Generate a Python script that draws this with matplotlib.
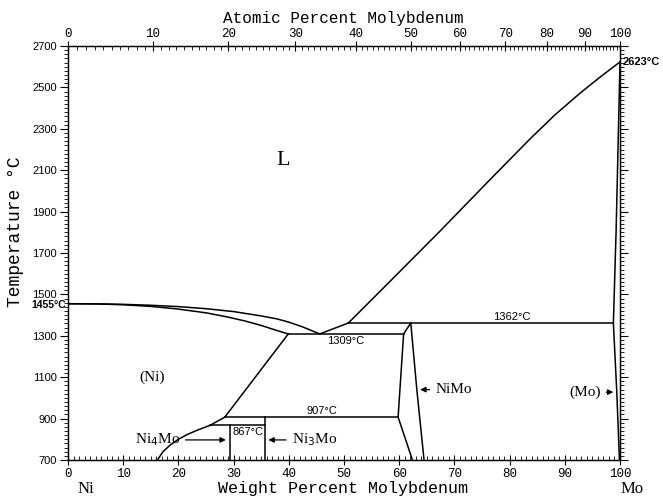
#!/usr/bin/env python3
# -*- coding: utf-8 -*-
"""Ni-Mo phase diagram redraw."""

import matplotlib as mpl
import matplotlib.pyplot as plt
import numpy as np
from matplotlib.ticker import MultipleLocator, FixedLocator

mpl.rcParams["axes.unicode_minus"] = False

# =======================
# Data (wt% Mo, T in degC)
# =======================
LIQ_NI_WT = [0, 5, 10, 15, 20, 25, 30, 35, 37.8, 40, 42.5, 45.6]
LIQ_NI_T = [1455, 1454.5, 1452, 1447.5, 1441, 1431, 1417, 1396, 1382, 1366, 1343, 1309]

SOL_NI_WT = [0, 5, 10, 15, 19.7, 25, 28.7, 32, 35, 37.8, 39.9]
SOL_NI_T = [1455, 1454, 1450, 1442, 1430, 1411, 1392, 1372, 1350, 1326, 1309]

LIQ_MO_WT = [45.6, 50.8, 58.6, 67.4, 76.4, 83.7, 88.2, 92.8, 96.4, 100]
LIQ_MO_T = [1309, 1362, 1570, 1806, 2053, 2251, 2367, 2473, 2550, 2623]

SOL_MO_WT = [100, 99.3, 98.8]
SOL_MO_T = [2623, 1811, 1362]

SOLV_MO_WT = [98.8, 99.4, 99.9]
SOLV_MO_T = [1362, 1038, 700]

PERI_WT = [50.8, 98.8]
PERI_T = [1362, 1362]

EUT_WT = [39.9, 60.8]
EUT_T = [1309, 1309]

NIMO_L_WT = [62.1, 60.8, 59.8, 62.4]
NIMO_L_T = [1362, 1309, 907, 700]

NIMO_R_WT = [62.1, 63.2, 64.5]
NIMO_R_T = [1362, 1038, 700]

SOLV_NI_UP_WT = [39.9, 28.4]
SOLV_NI_UP_T = [1309, 907]

SOLV_NI_LO_WT = [28.4, 25.7, 23.5, 21.5, 20.0, 18.5, 17.2, 16.2]
SOLV_NI_LO_T = [907, 867, 845, 822, 800, 772, 740, 700]

L907_WT = [28.4, 59.8]
L907_T = [907, 907]

L867_WT = [25.7, 35.6]
L867_T = [867, 867]

NI4MO_WT = [29.3, 29.3]
NI4MO_T = [867, 700]

NI3MO_WT = [35.6, 35.6]
NI3MO_T = [907, 700]

T_TICKS = [700, 900, 1100, 1300, 1500, 1700, 1900, 2100, 2300, 2500, 2700]
AT_TICKS = [0, 10, 20, 30, 40, 50, 60, 70, 80, 90, 100]

M_NI = 58.69
M_MO = 95.95


def at_to_wt(a):
    a = np.asarray(a, dtype=float)
    return 100.0 * a * M_MO / (a * M_MO + (100.0 - a) * M_NI)


MONO = "Liberation Mono"
SERIF = "Liberation Serif"
SANS = "Liberation Sans"


def main():
    fig = plt.figure(figsize=(6.63, 4.98), dpi=100)
    ax = fig.add_axes([68 / 663, 1 - 460 / 498, 552 / 663, 414 / 498])

    kw = dict(color="black", lw=1.1, solid_joinstyle="round")
    for xs, ys in [
        (LIQ_NI_WT, LIQ_NI_T), (SOL_NI_WT, SOL_NI_T), (LIQ_MO_WT, LIQ_MO_T),
        (SOL_MO_WT, SOL_MO_T), (SOLV_MO_WT, SOLV_MO_T), (PERI_WT, PERI_T),
        (EUT_WT, EUT_T), (NIMO_L_WT, NIMO_L_T), (NIMO_R_WT, NIMO_R_T),
        (SOLV_NI_UP_WT, SOLV_NI_UP_T), (SOLV_NI_LO_WT, SOLV_NI_LO_T),
        (L907_WT, L907_T), (L867_WT, L867_T), (NI4MO_WT, NI4MO_T),
        (NI3MO_WT, NI3MO_T),
    ]:
        ax.plot(xs, ys, **kw)

    ax.set_xlim(0, 100)
    ax.set_ylim(700, 2700)

    # bottom / left ticks
    ax.xaxis.set_major_locator(MultipleLocator(10))
    ax.xaxis.set_minor_locator(MultipleLocator(1))
    ax.yaxis.set_major_locator(FixedLocator(T_TICKS))
    ax.yaxis.set_minor_locator(MultipleLocator(20))
    ax.tick_params(axis="x", which="major", direction="inout", length=7, width=0.8,
                   labelsize=9, pad=2)
    ax.tick_params(axis="x", which="minor", direction="in", length=3, width=0.6)
    ax.tick_params(axis="y", which="major", direction="out", length=6, width=0.8,
                   labelsize=8, right=True, pad=2)
    ax.tick_params(axis="y", which="minor", direction="out", length=3, width=0.6,
                   right=True)
    for lab in ax.get_xticklabels():
        lab.set_family(MONO)
    for lab in ax.get_yticklabels():
        lab.set_family(SANS)

    # top atomic percent axis
    top = ax.twiny()
    top.set_xlim(0, 100)
    top.xaxis.set_major_locator(FixedLocator(at_to_wt(AT_TICKS)))
    top.xaxis.set_minor_locator(FixedLocator(at_to_wt(np.arange(0, 101, 1))))
    top.set_xticklabels([str(v) for v in AT_TICKS], family=MONO, fontsize=9)
    top.tick_params(axis="x", which="major", direction="inout", length=7, width=0.8, pad=1)
    top.tick_params(axis="x", which="minor", direction="in", length=3, width=0.6)

    for a in (ax, top):
        for s in a.spines.values():
            s.set_linewidth(0.9)

    # axis titles
    fig.text(343 / 663, 1 - 18 / 498, "Atomic Percent Molybdenum", ha="center",
             va="center", family=MONO, fontsize=11.5)
    fig.text(343 / 663, 1 - 488 / 498, "Weight Percent Molybdenum", ha="center",
             va="center", family=MONO, fontsize=12)
    fig.text(86 / 663, 1 - 489 / 498, "Ni", ha="center", va="center",
             family=SERIF, fontsize=12)
    fig.text(632 / 663, 1 - 489 / 498, "Mo", ha="center", va="center",
             family=SERIF, fontsize=12)
    fig.text(16 / 663, 1 - 232 / 498, "Temperature °C", ha="center", va="center",
             rotation=90, family=MONO, fontsize=13)

    # temperature annotations
    fig.text(66 / 663, 1 - 305.5 / 498, "1455°C", ha="right", va="center",
             family=SANS, fontsize=7.5, fontweight="bold")
    fig.text(623 / 663, 1 - 62 / 498, "2623°C", ha="left", va="center",
             family=SANS, fontsize=8, fontweight="bold")
    ax.text(47.0, 1300, "1309°C", ha="left", va="top", family=SANS, fontsize=8)
    ax.text(80.4, 1368, "1362°C", ha="center", va="bottom", family=SANS, fontsize=8)
    ax.text(46, 913, "907°C", ha="center", va="bottom", family=SANS, fontsize=8)
    ax.text(32.6, 860, "867°C", ha="center", va="top", family=SANS, fontsize=8)

    # phase labels
    ax.text(39, 2145, "L", ha="center", va="center", family=SERIF, fontsize=16)
    ax.text(15.3, 1102, "(Ni)", ha="center", va="center", family=SERIF, fontsize=11)

    arrow = dict(arrowstyle="-|>", color="black", lw=0.9, mutation_scale=8)
    ax.annotate("NiMo", xy=(63.3, 1040), xytext=(66.5, 1040), ha="left", va="center",
                family=SERIF, fontsize=11, arrowprops=arrow)
    ax.annotate("(Mo)", xy=(99.3, 1028), xytext=(96.5, 1028), ha="right", va="center",
                family=SERIF, fontsize=11, arrowprops=arrow)
    ax.annotate("Ni$_4$Mo", xy=(29.1, 797), xytext=(20.3, 797), ha="right", va="center",
                family=SERIF, fontsize=11, arrowprops=arrow)
    ax.annotate("Ni$_3$Mo", xy=(35.8, 797), xytext=(40.5, 797), ha="left", va="center",
                family=SERIF, fontsize=11, arrowprops=arrow)

    fig.savefig("out.png", dpi=100)


if __name__ == "__main__":
    main()
